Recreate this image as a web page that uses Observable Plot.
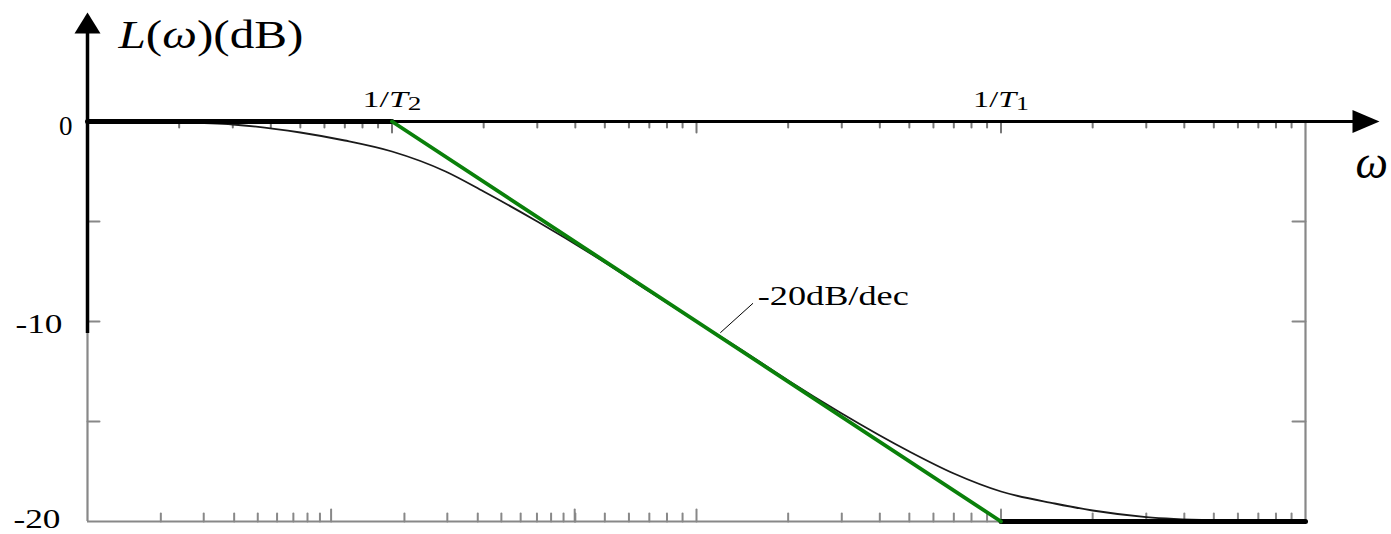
<!DOCTYPE html>
<html><head><meta charset="utf-8">
<script src="https://cdn.jsdelivr.net/npm/d3@7"></script>
<script src="https://cdn.jsdelivr.net/npm/@observablehq/plot@0.6"></script>
<style>
body{margin:0;background:#fff}
#chart{position:relative;width:1391px;height:534px;overflow:hidden}
#chart svg{position:absolute;left:0;top:0;max-width:none}
#chart svg text{font-family:"Liberation Serif","Times New Roman",serif !important}
</style>
</head><body><div id="chart"></div>
<script>
// ---- data ----
const omega  = [0.1, 0.2, 0.3, 0.5, 0.7, 1, 1.5, 2, 3, 5, 7, 10, 15, 20, 30, 50, 70, 100, 150, 200, 300, 500, 700, 1000];
const gainDb = [-0.02, -0.06, -0.15, -0.55, -0.95, -1.5, -2.5, -3.5, -5.0, -7.05, -8.5, -10.0, -11.7, -12.95, -14.6, -16.5, -17.6, -18.5, -19.1, -19.45, -19.78, -19.94, -19.97, -19.98];
const asymOmega = [0.1, 1, 100, 1000];
const asymGain  = [0, 0, -20, -20];
const cornerOmega  = [1, 100];
const cornerLabels = ["1/T2", "1/T1"];
const slopeLabel = "-20dB/dec";
const leaderOmega = [12.0, 15.3];
const leaderGain  = [-10.55, -9.1];
const yTickValues = [0, -10, -20];
const sideTicks = [-5, -10, -15];
const topMinor = [0.2,0.3,0.4,0.5,0.6,0.7,0.8,0.9, 2,3,4,5,6,7,8,9, 20,30,40,50,60,70,80,90, 200,300,400,500,600,700,800,900];
const topMajor = [1, 10, 100];
const bottomMinor = [4,5,6,7,8,9, 20,30,40,50,60,70,80,90, 200,300,400,500,600,700,800,900];
const bottomMajor = [10, 100];
const frameMinor = [2,3,4,5,6,7,8,9, 20,30,40,50,60,70,80,90];
const frameMajor = [10, 100];
const titleText = "L(ω)(dB)";
const titlePos = {omega: 0.1264, gain: 3.7};
const omegaLabel = "ω";
const omegaLabelPos = {omega: 1459, gain: -2.8};
const yAxisExtent = [-10.6, 4.6];
const yArrowTip = 5.45;
const xAxisExtent = [0.1, 1450];
const xArrowTip = 1750;

// ---- helpers ----
const serif = "Liberation Serif";
const tickShape = {draw(ctx, l) { ctx.moveTo(0, 0); ctx.lineTo(0, -l); }};
const upTri = {draw(ctx, size) { const r = Math.sqrt(size / Math.PI); ctx.moveTo(0, 0); ctx.lineTo(1.3 * r, 2.1 * r); ctx.lineTo(-1.3 * r, 2.1 * r); ctx.closePath(); }};
const rightTri = {draw(ctx, size) { const r = Math.sqrt(size / Math.PI); ctx.moveTo(0, 0); ctx.lineTo(-2.7 * r, -1.15 * r); ctx.lineTo(-2.7 * r, 1.15 * r); ctx.closePath(); }};
const grey = "#888";
const layout = {width: 1391, height: 534, marginLeft: 87, marginRight: 86, marginTop: 121, marginBottom: 13,
  style: {background: "transparent", overflow: "visible"}};

const curve = omega.map((w, i) => ({w, g: gainDb[i]}));
const asym = asymOmega.map((w, i) => ({w, g: asymGain[i]}));

// frame overlay (its own log scale, five decades across the frame)
const frame = Plot.plot({
  ...layout,
  x: {type: "log", domain: [1, 1e5], axis: null},
  y: {domain: [-20, 0], axis: null},
  marks: [
    Plot.vector(frameMinor, {x: d => d, y: -20, length: 8, rotate: 0, anchor: "start", shape: tickShape, stroke: grey, strokeWidth: 2}),
    Plot.vector(frameMajor, {x: d => d, y: -20, length: 12, rotate: 0, anchor: "start", shape: tickShape, stroke: grey, strokeWidth: 2})
  ]
});

const main = Plot.plot({
  ...layout,
  x: {type: "log", domain: [0.1, 1000], axis: null},
  y: {domain: [-20, 0], axis: null},
  marks: [
    // grey frame
    Plot.ruleY([-20], {x1: 0.1, x2: 1000, stroke: grey, strokeWidth: 2.2}),
    Plot.ruleX([0.1, 1000], {y1: -20, y2: 0, stroke: grey, strokeWidth: 2.2}),
    Plot.vector(sideTicks, {x: 0.1, y: d => d, length: 12, rotate: 90, anchor: "start", shape: tickShape, stroke: grey, strokeWidth: 2}),
    Plot.vector(sideTicks, {x: 1000, y: d => d, length: 13, rotate: -90, anchor: "start", shape: tickShape, stroke: grey, strokeWidth: 2}),
    Plot.vector(bottomMinor, {x: d => d, y: -20, length: 8, rotate: 0, anchor: "start", shape: tickShape, stroke: grey, strokeWidth: 2}),
    Plot.vector(bottomMajor, {x: d => d, y: -20, length: 12, rotate: 0, anchor: "start", shape: tickShape, stroke: grey, strokeWidth: 2}),
    Plot.vector(topMinor, {x: d => d, y: 0, length: 6, rotate: 180, anchor: "start", shape: tickShape, stroke: "#777", strokeWidth: 2}),
    Plot.vector(topMajor, {x: d => d, y: 0, length: 11, rotate: 180, anchor: "start", shape: tickShape, stroke: "#777", strokeWidth: 2}),
    // black axes with arrows
    Plot.ruleX([0.1], {y1: yAxisExtent[0], y2: yAxisExtent[1], stroke: "black", strokeWidth: 3.5}),
    Plot.ruleY([0], {x1: xAxisExtent[0], x2: xAxisExtent[1], stroke: "black", strokeWidth: 3}),
    Plot.dot([0], {x: 0.1, y: yArrowTip, r: 10, symbol: upTri, fill: "black", stroke: null}),
    Plot.dot([0], {x: xArrowTip, y: 0, r: 10, symbol: rightTri, fill: "black", stroke: null}),
    // exact curve
    Plot.line(curve, {x: "w", y: "g", stroke: "#1a1a1a", strokeWidth: 1.8, curve: "monotone-x"}),
    // asymptotes
    Plot.line(asym.slice(0, 2), {x: "w", y: "g", stroke: "black", strokeWidth: 5}),
    Plot.line(asym.slice(2, 4), {x: "w", y: "g", stroke: "black", strokeWidth: 5}),
    Plot.line(asym.slice(1, 3), {x: "w", y: "g", stroke: "#0a800a", strokeWidth: 3.8}),
    // slope annotation
    Plot.line(leaderOmega.map((w, i) => ({w, g: leaderGain[i]})), {x: "w", y: "g", stroke: "black", strokeWidth: 1}),
    Plot.text([slopeLabel], {x: leaderOmega[1], y: leaderGain[1], text: d => d, textAnchor: "start", lineAnchor: "bottom", dx: 5, dy: 1, fontSize: 27, fontFamily: serif, fill: "black"}),
    // corner labels
    Plot.text(cornerLabels, {x: (d, i) => cornerOmega[i], y: 0, text: d => d, textAnchor: "middle", lineAnchor: "bottom", dy: -15, fontSize: 23, fontFamily: serif, fill: "black"}),
    // y tick labels
    Plot.text(yTickValues.slice(0, 1), {x: 0.1, y: d => d, text: d => String(d), textAnchor: "end", lineAnchor: "bottom", dx: -15, dy: 13, fontSize: 27, fontFamily: serif, fill: "black"}),
    Plot.text(yTickValues.slice(1, 2), {x: 0.1, y: d => d, text: d => String(d), textAnchor: "end", lineAnchor: "bottom", dx: -25, dy: 11, fontSize: 27, fontFamily: serif, fill: "black"}),
    Plot.text(yTickValues.slice(2), {x: 0.1, y: d => d, text: d => String(d), textAnchor: "end", lineAnchor: "bottom", dx: -27, dy: 6.5, fontSize: 27, fontFamily: serif, fill: "black"}),
    // axis titles
    Plot.text([titleText], {x: titlePos.omega, y: titlePos.gain, text: d => d, textAnchor: "start", lineAnchor: "bottom", fontSize: 40, fontFamily: serif, fill: "black"}),
    Plot.text([omegaLabel], {x: omegaLabelPos.omega, y: omegaLabelPos.gain, text: d => d, textAnchor: "start", lineAnchor: "bottom", fontSize: 46, fontFamily: serif, fontStyle: "italic", fill: "black"})
  ]
});

const chart = document.getElementById("chart");
chart.appendChild(frame);
chart.appendChild(main);

// rich text (italic symbols, subscripts) and horizontal stretch as in the picture
const NS = "http://www.w3.org/2000/svg";
function rich(el, parts) {
  el.textContent = "";
  for (const [t, style] of parts) {
    const ts = document.createElementNS(NS, "tspan");
    ts.textContent = t;
    if (style === "i") ts.setAttribute("font-style", "italic");
    if (style === "sub") { ts.setAttribute("font-size", "0.8em"); ts.setAttribute("dy", "0.2em"); }
    el.appendChild(ts);
  }
}
function stretch(el, len) {
  el.setAttribute("textLength", len);
  el.setAttribute("lengthAdjust", "spacingAndGlyphs");
}
for (const t of main.querySelectorAll("text")) {
  const s = t.textContent;
  if (s === titleText) { rich(t, [["L", "i"], ["("], ["ω", "i"], [")(dB)"]]); stretch(t, 185); }
  else if (s === "1/T2") { rich(t, [["1/"], ["T", "i"], ["2", "sub"]]); stretch(t, 59); }
  else if (s === "1/T1") { rich(t, [["1/"], ["T", "i"], ["1", "sub"]]); stretch(t, 56); }
  else if (s === slopeLabel) { stretch(t, 151); }
  else if (s === "-10" || s === "-20") { stretch(t, 47); }
}
</script>
</body></html>
